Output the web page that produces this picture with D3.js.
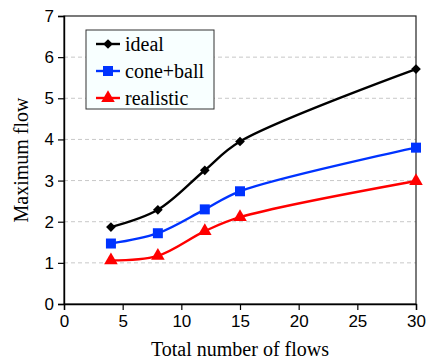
<!DOCTYPE html>
<html>
<head>
<meta charset="utf-8">
<script src="https://cdn.jsdelivr.net/npm/d3@7"></script>
<style>
  body { margin: 0; background: #fff; }
  svg { display: block; }
  .serif { font-family: "Liberation Serif", "Times New Roman", "DejaVu Serif", serif; }
</style>
</head>
<body>
<svg id="chart" width="428" height="360"></svg>
<script>
const flows = [4, 8, 12, 15, 30];
const ideal = [1.87, 2.29, 3.25, 3.95, 5.71];
const coneBall = [1.47, 1.72, 2.3, 2.74, 3.8];
const realistic = [1.06, 1.17, 1.77, 2.11, 2.99];
const xTicks = [0, 5, 10, 15, 20, 25, 30];
const yTicks = [0, 1, 2, 3, 4, 5, 6, 7];

const series = [
  {name: 'ideal', values: ideal, color: '#000', shape: d3.symbolDiamond2, size: 60},
  {name: 'cone+ball', values: coneBall, color: '#0033ff', shape: d3.symbolSquare, size: 100},
  {name: 'realistic', values: realistic, color: '#ff0000', shape: d3.symbolTriangle, size: 80}
];

const svg = d3.select('#chart');
const margin = {left: 64, top: 16, right: 12, bottom: 56};
const width = 428 - margin.left - margin.right;
const height = 360 - margin.top - margin.bottom;

const x = d3.scaleLinear().domain([0, 30]).range([0, width]);
const y = d3.scaleLinear().domain([0, 7]).range([height, 0]);

const g = svg.append('g')
  .attr('transform', 'translate(' + margin.left + ',' + margin.top + ')');

// dashed grid
g.append('g')
  .selectAll('line')
  .data(yTicks.filter((t) => t > 0 && t < 7))
  .enter().append('line')
  .attr('x1', 0)
  .attr('x2', width)
  .attr('y1', (d) => y(d))
  .attr('y2', (d) => y(d))
  .attr('stroke', '#c8c8c8')
  .attr('stroke-width', 1)
  .attr('stroke-dasharray', '4,3');

// frame
g.append('rect')
  .attr('x', 0)
  .attr('y', 0)
  .attr('width', width)
  .attr('height', height)
  .attr('fill', 'none')
  .attr('stroke', '#222')
  .attr('stroke-width', 1.2);

const xAxis = d3.axisBottom(x).tickValues(xTicks).tickFormat(d3.format('d')).tickSize(6).tickPadding(5);
const yAxis = d3.axisLeft(y).tickValues(yTicks).tickFormat(d3.format('d')).tickSize(6).tickPadding(4);

const xg = g.append('g')
  .attr('transform', 'translate(0,' + height + ')')
  .call(xAxis);
const yg = g.append('g').call(yAxis);

[xg, yg].forEach((ax) => {
  ax.select('.domain').attr('stroke', '#000').attr('stroke-width', 1.4);
  ax.selectAll('.tick line').attr('stroke', '#000').attr('stroke-width', 1.2);
  ax.selectAll('.tick text')
    .attr('fill', '#000')
    .style('font-family', '"Liberation Sans", Arial, sans-serif')
    .style('font-size', '17px');
});

const line = d3.line()
  .x((d, i) => x(flows[i]))
  .y((d) => y(d))
  .curve(d3.curveCatmullRom.alpha(0.5));

series.forEach((s) => {
  g.append('path')
    .datum(s.values)
    .attr('d', line)
    .attr('fill', 'none')
    .attr('stroke', s.color)
    .attr('stroke-width', 2.4);

  g.selectAll('.pt-' + s.name.replace('+', ''))
    .data(s.values)
    .enter().append('path')
    .attr('transform', (d, i) => 'translate(' + x(flows[i]) + ',' + y(d) + ')')
    .attr('d', d3.symbol().type(s.shape).size(s.size))
    .attr('fill', s.color);
});

// legend
const legend = svg.append('g').attr('transform', 'translate(86,30)');
legend.append('rect')
  .attr('width', 128)
  .attr('height', 79)
  .attr('fill', '#f8ffff')
  .attr('stroke', '#333')
  .attr('stroke-width', 1);

series.forEach((s, i) => {
  const row = legend.append('g').attr('transform', 'translate(0,' + (14 + i * 27) + ')');
  row.append('line')
    .attr('x1', 10).attr('x2', 34)
    .attr('stroke', s.color).attr('stroke-width', 2.4);
  row.append('path')
    .attr('transform', 'translate(22,0)')
    .attr('d', d3.symbol().type(s.shape).size(s.size))
    .attr('fill', s.color);
  row.append('text')
    .attr('class', 'serif')
    .attr('x', 39)
    .attr('y', 6.5)
    .style('font-size', '20px')
    .attr('fill', '#000')
    .text(s.name);
});

// axis titles
svg.append('text')
  .attr('class', 'serif')
  .attr('x', margin.left + width / 2)
  .attr('y', 356)
  .attr('text-anchor', 'middle')
  .style('font-size', '20px')
  .text('Total number of flows');

svg.append('text')
  .attr('class', 'serif')
  .attr('transform', 'translate(28,' + (margin.top + height / 2) + ') rotate(-90)')
  .attr('text-anchor', 'middle')
  .style('font-size', '20px')
  .text('Maximum flow');
</script>
</body>
</html>
